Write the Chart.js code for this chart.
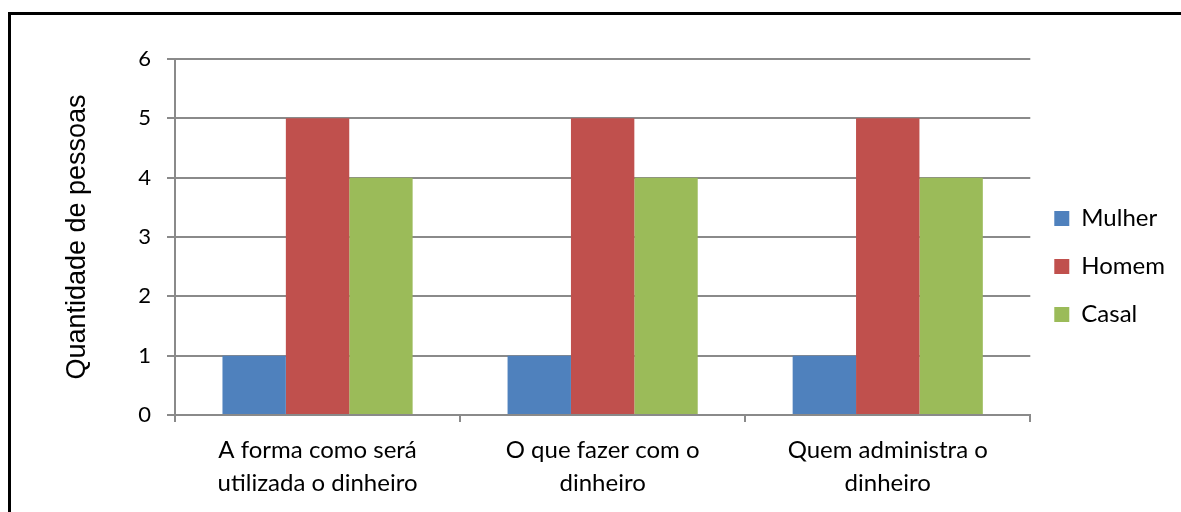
<!DOCTYPE html>
<html>
<head>
<meta charset="utf-8">
<script src="https://cdn.jsdelivr.net/npm/chart.js@4/dist/chart.umd.min.js"></script>
<style>
  html, body { margin: 0; padding: 0; background: #fff; }
  #wrap { position: relative; width: 1181px; height: 512px; }
  #frame { position: absolute; left: 8px; top: 12px; right: -4px; bottom: -4px; border: 3px solid #000; }
  canvas { position: absolute; left: 0; top: 0; }
</style>
</head>
<body>
<div id="wrap">
  <div id="frame"></div>
  <canvas id="chart" width="1181" height="512"></canvas>
</div>
<script>
// data
const categories = [
  ["A forma como será", "utilizada o dinheiro"],
  ["O que fazer com o", "dinheiro"],
  ["Quem administra o", "dinheiro"]
];
const mulher = [1, 1, 1];
const homem = [5, 5, 5];
const casal = [4, 4, 4];

const grey = "#8a8a8a";
const tickFont = { family: "Lato", size: 24, lineHeight: 1.375 };

const ctx = document.getElementById("chart").getContext("2d");
new Chart(ctx, {
  type: "bar",
  data: {
    labels: categories,
    datasets: [
      { label: "Mulher", data: mulher, backgroundColor: "#4F81BD" },
      { label: "Homem", data: homem, backgroundColor: "#C0504D" },
      { label: "Casal", data: casal, backgroundColor: "#9BBB59" }
    ]
  },
  options: {
    responsive: false,
    animation: false,
    categoryPercentage: 0.667,
    barPercentage: 1,
    layout: { padding: { top: 59, left: 60, right: 6, bottom: 0 } },
    plugins: {
      tooltip: { enabled: false },
      legend: {
        position: "right",
        fullSize: false,
        // empty title only to push the legend items down a bit
        title: { display: true, text: " ", font: { size: 10 }, padding: { top: 0, bottom: 47 } },
        labels: {
          boxWidth: 15,
          boxHeight: 15,
          padding: 24,
          color: "#000",
          font: { family: "Lato", size: 24 }
        }
      }
    },
    scales: {
      x: {
        grid: { drawOnChartArea: false, drawTicks: true, tickLength: 7, color: grey, lineWidth: 2 },
        border: { color: grey, width: 2 },
        ticks: { color: "#000", font: tickFont, padding: 12, maxRotation: 0 },
        afterFit: (s) => { s.height = 97; }
      },
      y: {
        min: 0,
        max: 6,
        ticks: { stepSize: 1, color: "#000", font: { family: "Lato", size: 22 }, padding: 16 },
        grid: { color: grey, lineWidth: 2, tickLength: 8 },
        border: { color: grey, width: 2 },
        title: {
          display: true,
          text: "Quantidade de pessoas",
          color: "#000",
          font: { family: "Liberation Sans", size: 27 },
          padding: { top: 1, bottom: 0 }
        },
        afterFit: (s) => { s.width = 115; }
      }
    }
  }
});
</script>
</body>
</html>
